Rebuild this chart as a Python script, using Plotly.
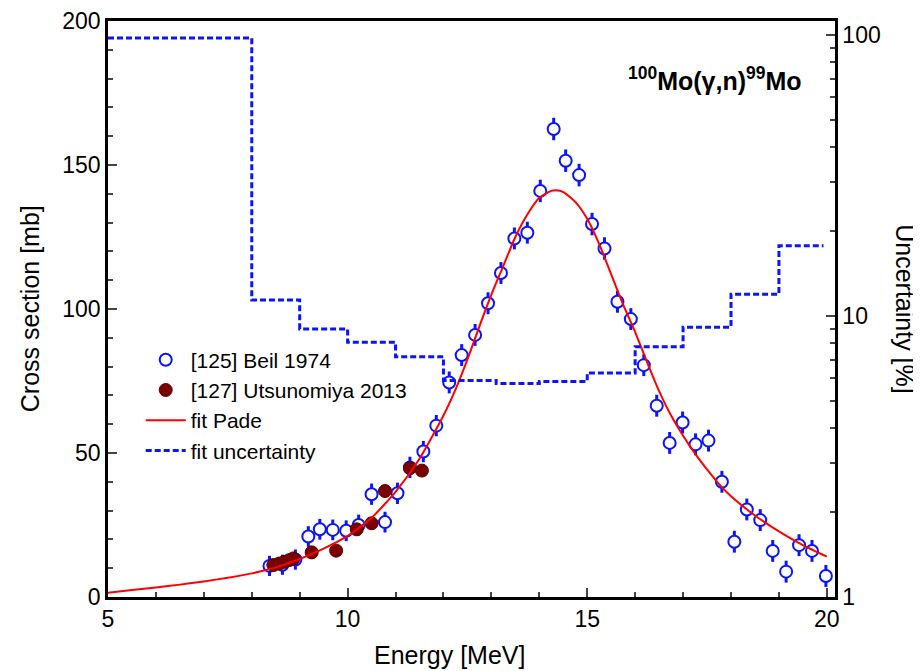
import plotly.graph_objects as go

# [125] Beil 1974 (energy in MeV, cross section in mb)
beil_e = [8.37, 8.64, 8.91, 9.18, 9.42, 9.69, 9.97, 10.23, 10.50, 10.78, 11.04, 11.30,
          11.58, 11.85, 12.12, 12.38, 12.66, 12.93, 13.20, 13.48, 13.75, 14.02, 14.30,
          14.55, 14.83, 15.10, 15.36, 15.63, 15.91, 16.18, 16.45, 16.72, 16.99, 17.26,
          17.53, 17.81, 18.07, 18.33, 18.61, 18.87, 19.15, 19.42, 19.69, 19.98]
beil_xs = [10.8, 11.2, 13.0, 21.0, 23.5, 23.3, 23.0, 25.0, 35.7, 26.0, 36.0, 45.0,
           50.5, 59.5, 74.5, 84.0, 91.0, 102.0, 112.5, 124.5, 126.5, 141.0, 162.5,
           151.5, 146.5, 129.5, 121.0, 102.5, 96.5, 80.5, 66.4, 53.5, 60.6, 53.0,
           54.3, 40.0, 19.2, 30.4, 26.7, 16.0, 8.8, 18.0, 16.0, 7.3]
beil_err = [3.5, 3.5, 3.5, 3.6, 3.6, 3.6, 3.6, 3.6, 3.7, 3.6, 3.7, 3.7,
            3.7, 3.7, 3.8, 3.8, 3.8, 3.8, 3.8, 3.8, 3.8, 3.9, 3.9,
            3.9, 3.9, 3.9, 3.9, 3.8, 3.8, 3.8, 3.8, 3.8, 3.8, 3.8,
            3.8, 3.8, 3.8, 3.8, 3.8, 3.8, 3.8, 3.8, 3.8, 3.8]

# [127] Utsunomiya 2013
utsu_e = [8.45, 8.57, 8.68, 8.78, 8.87, 9.25, 9.76, 10.19, 10.50, 10.78, 11.30, 11.55]
utsu_xs = [11.1, 11.6, 12.2, 12.8, 13.4, 15.5, 16.1, 23.5, 25.6, 36.8, 44.7, 43.9]

# Pade fit
fit_e = [5.0, 5.5, 6.0, 6.5, 7.0, 7.5, 8.0, 8.5, 9.0, 9.5, 10.0, 10.5, 11.0, 11.5,
         12.0, 12.25, 12.5, 12.75, 13.0, 13.25, 13.5, 13.75, 14.0, 14.25, 14.35, 14.5,
         14.75, 15.0, 15.25, 15.5, 15.75, 16.0, 16.25, 16.5, 16.75, 17.0, 17.25, 17.5,
         17.75, 18.0, 18.5, 19.0, 19.5, 20.0]
fit_xs = [1.5, 2.4, 3.3, 4.3, 5.4, 6.7, 8.2, 10.3, 13.2, 16.8, 21.2, 27.5, 36.5, 48.0,
          63.0, 72.0, 82.5, 94.0, 105.0, 115.0, 125.0, 132.8, 138.6, 141.0, 141.2, 140.6,
          137.2, 131.3, 122.5, 112.0, 101.5, 92.0, 81.5, 71.5, 63.0, 56.0, 49.8, 44.3,
          39.2, 35.0, 28.3, 22.8, 18.0, 14.0]

# fit uncertainty in %, step function (right log axis)
unc_e = [5, 8, 9, 10, 11, 12, 13.1, 14.0, 15, 16, 17, 18, 19, 19.93]
unc_pct = [97.6, 11.4, 9.0, 8.07, 7.16, 5.9, 5.75, 5.85, 6.27, 7.77, 9.13, 11.96, 17.77, 17.77]

BLUE = "#0a14ff"
FONT = "Liberation Sans, Arial, sans-serif"

fig = go.Figure()

fig.add_trace(go.Scatter(
    x=beil_e, y=beil_xs, mode="markers", name="[125] Beil 1974",
    marker=dict(symbol="circle", size=12, color="white", line=dict(color=BLUE, width=2)),
    error_y=dict(type="data", array=beil_err, color=BLUE, thickness=3, width=0),
))
fig.add_trace(go.Scatter(
    x=utsu_e, y=utsu_xs, mode="markers", name="[127] Utsunomiya 2013",
    marker=dict(symbol="circle", size=13, color="#7a0000", line=dict(color="#5a0000", width=1)),
))
fig.add_trace(go.Scatter(
    x=fit_e, y=fit_xs, mode="lines", name="fit Pade",
    line=dict(color="#ff0000", width=2, shape="spline", smoothing=0.6),
))
fig.add_trace(go.Scatter(
    x=unc_e, y=unc_pct, mode="lines", name="fit uncertainty", yaxis="y2",
    line=dict(color=BLUE, width=3, dash="6px,3px", shape="hv"),
))

# the page body has an 8px margin, so the figure is a bit smaller and shifted
fig.update_layout(
    width=913, height=663,
    margin=dict(l=100, r=86, t=13, b=74),
    plot_bgcolor="white", paper_bgcolor="white",
    font=dict(family=FONT, size=23, color="black"),
    showlegend=True,
    legend=dict(x=0.045, y=0.447, xanchor="left", yanchor="top", bgcolor="rgba(0,0,0,0)",
                font=dict(size=21), tracegroupgap=0, itemwidth=40),
    xaxis=dict(
        range=[5, 20.17], tickvals=[5, 10, 15, 20], ticks="inside", ticklen=9, tickwidth=2,
        showline=True, linewidth=2.5, linecolor="black", mirror=True, showgrid=False, zeroline=False,
        minor=dict(dtick=1, ticks="inside", ticklen=5, tickwidth=2, showgrid=False),
        automargin=False,
    ),
    yaxis=dict(
        range=[0, 200], dtick=50, ticks="inside", ticklen=9, tickwidth=2,
        showline=True, linewidth=2.5, linecolor="black", showgrid=False, zeroline=False,
        minor=dict(dtick=10, ticks="inside", ticklen=5, tickwidth=2, showgrid=False),
        automargin=False,
    ),
    yaxis2=dict(
        type="log", range=[0, 2.05], overlaying="y", side="right", anchor="x",
        tickvals=[1, 10, 100], ticktext=["1", "10", "100"], ticks="inside", ticklen=9, tickwidth=2,
        showline=True, linewidth=2.5, linecolor="black", showgrid=False, zeroline=False,
        minor=dict(tickvals=[2, 3, 4, 5, 6, 7, 8, 9, 20, 30, 40, 50, 60, 70, 80, 90],
                   ticks="inside", ticklen=5, tickwidth=2, showgrid=False),
        automargin=False,
    ),
    annotations=[
        dict(text="<b><sup>100</sup>Mo(\u03b3,n)<sup>99</sup>Mo</b>", xref="paper", yref="paper",
             x=0.835, y=0.9, xanchor="center", yanchor="middle", showarrow=False,
             font=dict(size=25)),
        dict(text="Energy [MeV]", xref="paper", yref="paper", x=0.47, y=-0.1,
             xanchor="center", yanchor="middle", showarrow=False, font=dict(size=25)),
        dict(text="Cross section [mb]", xref="paper", yref="paper", x=-0.107, y=0.5,
             xanchor="center", yanchor="middle", textangle=-90, showarrow=False,
             font=dict(size=25)),
        dict(text="Uncertainty [%]", xref="paper", yref="paper", x=1.096, y=0.5,
             xanchor="center", yanchor="middle", textangle=90, showarrow=False,
             font=dict(size=25)),
    ],
)

fig.write_html("out.html")
